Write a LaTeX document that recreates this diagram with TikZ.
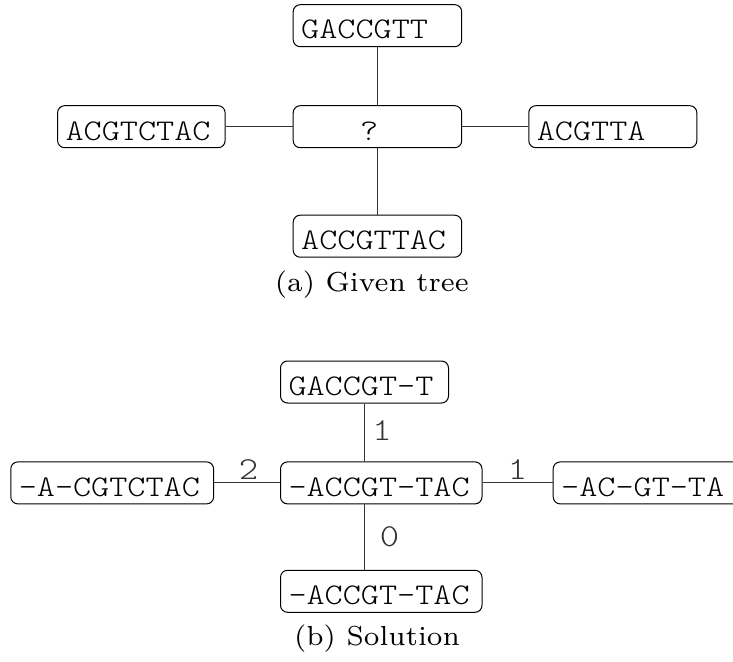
\documentclass[tikz,border=0pt]{standalone}
\usepackage{fontspec}
\newfontfamily\seqfont{lmmonolt10-regular.otf}[FakeStretch=1.15]
\newfontfamily\capfont{lmroman7-regular.otf}
\begin{document}
\begin{tikzpicture}[x=1pt,y=-1pt,
 seq/.style={draw, rounded corners=7pt, line width=1pt, inner xsep=8pt, inner ysep=0pt,
   text width=#1, align=left, text height=34.3pt, text depth=7.7pt,
   font=\seqfont\fontsize{30}{30}\selectfont, anchor=west},
 edge/.style={line width=1pt, black!80},
 lbl/.style={font=\seqfont\fontsize{32}{32}\selectfont, inner sep=0pt},
 captxt/.style={font=\capfont\fontsize{27.5}{27.5}\selectfont, anchor=base, inner sep=0pt}]
\useasboundingbox (0,0) rectangle (733,661);
% (a)
\node[seq=152.5pt] (ga) at (292.7,25.7) {GACCGTT};
\node[seq=152.5pt] (qa) at (292.7,126.7) {\hspace*{59pt}?};
\node[seq=151.5pt] (la) at (57.1,126.7) {ACGTCTAC};
\node[seq=152pt] (ra) at (528.3,126.7) {ACGTTA};
\node[seq=152.5pt] (ba) at (292.7,236.2) {ACCGTTAC};
\draw[edge] (ga) -- (qa);
\draw[edge] (qa) -- (ba);
\draw[edge] (la) -- (qa);
\draw[edge] (qa) -- (ra);
\node[captxt] (capa) at (371.9,291.7) {(a) Given tree};
% (b)
\node[seq=152pt] (gb) at (280,382) {GACCGT-T};
\node[seq=185.5pt] (mb) at (280,482.9) {-ACCGT-TAC};
\node[seq=186.8pt] (lb) at (10.3,482.9) {-A-CGTCTAC};
\node[seq=174pt] (rb) at (552.7,482.9) {-AC-GT-TA};
\node[seq=185.5pt] (bb) at (280,591.3) {-ACCGT-TAC};
\draw[edge] (gb.south) -- node[lbl, xshift=17.5pt, yshift=1.5pt] {1} (gb.south |- mb.north);
\draw[edge] (gb.south |- mb.south) -- node[lbl, xshift=25pt] {0} (gb.south |- bb.north);
\draw[edge] (lb) -- node[lbl, xshift=1.6pt, yshift=13pt] {2} (mb);
\draw[edge] (mb) -- node[lbl, yshift=13pt] {1} (rb);
\node[captxt] (capb) at (377,645) {(b) Solution};
\end{tikzpicture}
\end{document}
